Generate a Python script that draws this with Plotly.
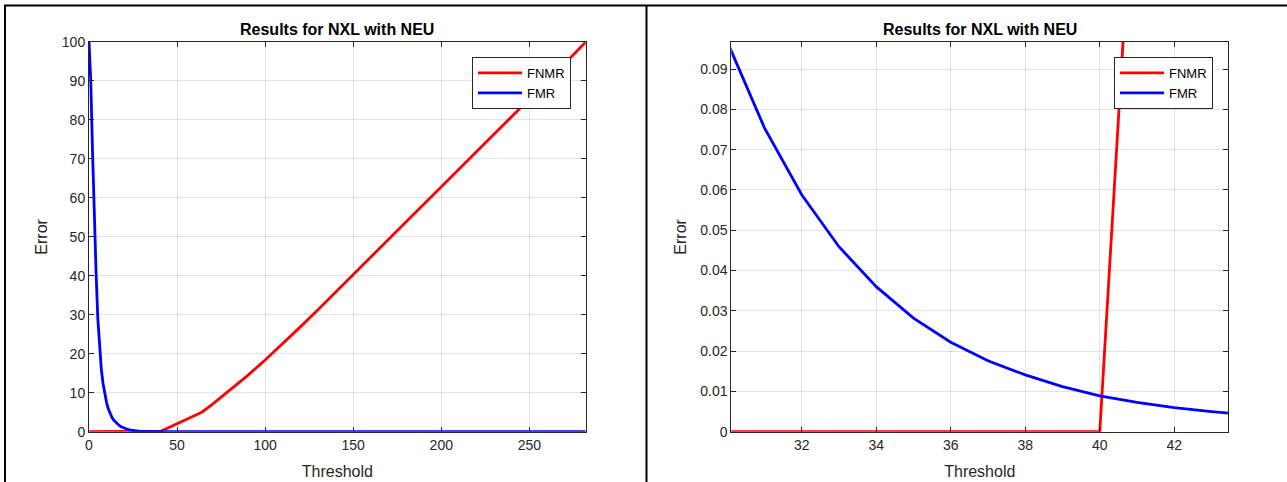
import plotly.graph_objects as go

# ---------------- data ----------------
thresholds = [0, 1, 2, 3, 4, 5, 6, 7, 8, 9, 10, 11, 12, 13, 14, 15, 16, 17, 18, 19,
              20, 21, 22, 23, 24, 25, 26, 27, 28, 29, 30, 31, 32, 33, 34, 35, 36, 37,
              38, 39, 40, 41, 42, 43, 44, 45, 50, 55, 60, 64, 70, 80, 90, 100, 110,
              120, 130, 140, 150, 160, 170, 180, 190, 200, 210, 220, 230, 240, 250,
              260, 270, 282]

fnmr = [0, 0, 0, 0, 0, 0, 0, 0, 0, 0, 0, 0, 0, 0, 0, 0, 0, 0, 0, 0,
        0, 0, 0, 0, 0, 0, 0, 0, 0, 0, 0, 0, 0, 0, 0, 0, 0, 0,
        0, 0, 0, 0.155, 0.36, 0.57, 0.78, 1.0, 2.1, 3.1, 4.2, 5.0, 7.0, 10.6, 14.4, 18.4, 22.6,
        26.9, 31.3, 35.8, 40.3, 44.9, 49.4, 53.9, 58.4, 62.9, 67.4, 71.9, 76.4, 80.9, 85.4,
        89.9, 94.4, 100.0]

fmr = [100, 90, 72, 55, 41, 29, 21, 16, 12.3, 9.5, 7.4, 5.8, 4.6, 3.7, 3.0, 2.45, 2.0, 1.65,
       1.35, 1.1, 0.9, 0.72, 0.57, 0.46, 0.37, 0.295, 0.235, 0.188, 0.15, 0.121, 0.0968,
       0.0754, 0.0588, 0.0459, 0.0360, 0.0282, 0.0222, 0.0176, 0.0141, 0.0112, 0.0089,
       0.0073, 0.0060, 0.0050, 0.0041, 0.0034, 0.0013, 0.0005, 0.0002, 0.0001, 0, 0, 0, 0, 0,
       0, 0, 0, 0, 0, 0, 0, 0, 0, 0, 0, 0, 0, 0,
       0, 0, 0]

title_text = "Results for NXL with NEU"
left_xticks = [0, 50, 100, 150, 200, 250]
left_yticks = [0, 10, 20, 30, 40, 50, 60, 70, 80, 90, 100]
right_xticks = [32, 34, 36, 38, 40, 42]
right_yticks = [0, 0.01, 0.02, 0.03, 0.04, 0.05, 0.06, 0.07, 0.08, 0.09]
right_yticklabels = ["0", "0.01", "0.02", "0.03", "0.04", "0.05", "0.06", "0.07", "0.08", "0.09"]

# ---------------- layout helpers ----------------
W, H = 1287, 482
FONT = "Liberation Sans, Arial, Helvetica, sans-serif"
AX = "#262626"
GRID = "rgba(38,38,38,0.13)"


def px_x(p):
    return p / W


def px_y(p):
    return 1 - p / H


y_dom = [px_y(431.7), px_y(42)]
left_dom = [px_x(89), px_x(585.7)]
right_dom = [px_x(731.3), px_x(1228.3)]

fig = go.Figure()

line_w = 2.8
fig.add_trace(go.Scatter(x=thresholds, y=fnmr, mode="lines", name="FNMR",
                         line=dict(color="#FF0000", width=line_w),
                         xaxis="x", yaxis="y", legend="legend"))
fig.add_trace(go.Scatter(x=thresholds, y=fmr, mode="lines", name="FMR",
                         line=dict(color="#0000FF", width=line_w),
                         xaxis="x", yaxis="y", legend="legend"))
fig.add_trace(go.Scatter(x=thresholds, y=fnmr, mode="lines", name="FNMR",
                         line=dict(color="#FF0000", width=line_w),
                         xaxis="x2", yaxis="y2", legend="legend2"))
fig.add_trace(go.Scatter(x=thresholds, y=fmr, mode="lines", name="FMR",
                         line=dict(color="#0000FF", width=line_w),
                         xaxis="x2", yaxis="y2", legend="legend2"))

common_axis = dict(showline=True, linecolor=AX, linewidth=1, mirror="ticks",
                   ticks="inside", ticklen=5, tickcolor=AX, tickwidth=1,
                   showgrid=True, gridcolor=GRID, gridwidth=1, zeroline=False,
                   automargin=False,
                   tickfont=dict(family=FONT, size=14, color=AX))

xtitle = dict(text="Threshold", font=dict(family=FONT, size=16, color=AX), standoff=14)
ytitle = dict(text="Error", font=dict(family=FONT, size=16, color=AX), standoff=9.5)

fig.update_layout(
    xaxis=dict(domain=left_dom, anchor="y", range=[0, 282], tickvals=left_xticks,
               title=xtitle, **common_axis),
    yaxis=dict(domain=y_dom, anchor="x", range=[0, 100], tickvals=left_yticks,
               title=ytitle, **common_axis),
    xaxis2=dict(domain=right_dom, anchor="y2", range=[30.11, 43.45], tickvals=right_xticks,
                title=xtitle, **common_axis),
    yaxis2=dict(domain=y_dom, anchor="x2", range=[0, 0.0967], tickvals=right_yticks,
                ticktext=right_yticklabels, title=ytitle, **common_axis),
)

legend_common = dict(bgcolor="white", bordercolor=AX, borderwidth=1,
                     font=dict(family=FONT, size=13, color="black"),
                     xanchor="left", yanchor="top", itemwidth=44,
                     tracegroupgap=0)
fig.update_layout(
    legend=dict(x=px_x(472), y=px_y(57), **legend_common),
    legend2=dict(x=px_x(1114), y=px_y(57), **legend_common),
)

# titles
for cx in [(89 + 585.7) / 2, (731.3 + 1228.3) / 2]:
    fig.add_annotation(text="<b>" + title_text + "</b>", x=px_x(cx), y=px_y(29),
                       xref="paper", yref="paper", xanchor="center", yanchor="middle",
                       showarrow=False, font=dict(family=FONT, size=16, color="black"))

# outer frame lines (screenshot cell borders)
frame = dict(type="line", xref="paper", yref="paper", line=dict(color="black", width=2))
fig.add_shape(x0=px_x(4), x1=1, y0=px_y(5.5), y1=px_y(5.5), **frame)
fig.add_shape(x0=px_x(5), x1=px_x(5), y0=px_y(5), y1=0, **frame)
fig.add_shape(x0=px_x(646.5), x1=px_x(646.5), y0=px_y(5), y1=0, **frame)

fig.update_layout(width=W, height=H,
                  margin=dict(l=0, r=0, t=0, b=0, pad=0, autoexpand=False),
                  paper_bgcolor="white", plot_bgcolor="white", showlegend=True)

fig.write_html("out.html",
               config={"displayModeBar": False},
               post_script="document.body.style.margin='0';document.body.style.padding='0';"
                           "document.body.style.overflow='hidden';")
